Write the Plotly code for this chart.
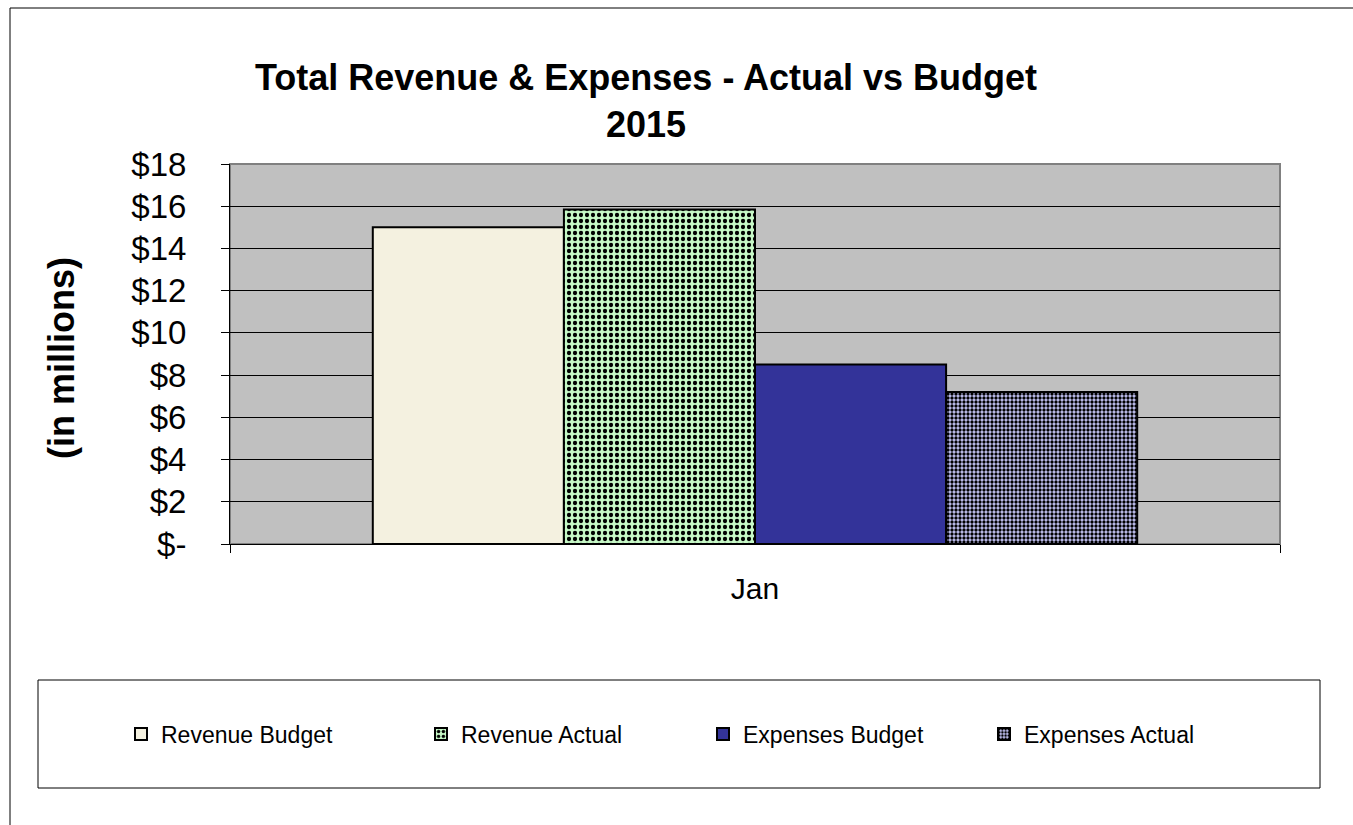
import plotly.graph_objects as go

# Chart data (values in $ millions)
categories = ["Jan"]
series_names = ["Revenue Budget", "Revenue Actual", "Expenses Budget", "Expenses Actual"]
revenue_budget = [15.0]
revenue_actual = [15.85]
expenses_budget = [8.5]
expenses_actual = [7.2]

tick_values = [0, 2, 4, 6, 8, 10, 12, 14, 16, 18]
tick_labels = ["$-", "$2", "$4", "$6", "$8", "$10", "$12", "$14", "$16", "$18"]

FONT = "Arial, Liberation Sans, sans-serif"

# Canvas geometry (pixels)
W, H = 1353, 825
PL, PR, PT, PB = 230, 1280, 164, 544  # plot area left/right/top/bottom


def px_x(x):
    return (x - PL) / (PR - PL)


def px_y(y):
    return (PB - y) / (PB - PT)


styles = [
    dict(color="#F4F1E0", pattern=None),
    dict(color="#C6F8C6", pattern=dict(shape=".", size=6, solidity=0.4,
                                       fgcolor="#000000", bgcolor="#C6F8C6",
                                       fillmode="replace")),
    dict(color="#333399", pattern=None),
    dict(color="#C8C8FA", pattern=dict(shape=".", size=4, solidity=0.55,
                                       fgcolor="#000000", bgcolor="#C8C8FA",
                                       fillmode="replace")),
]
values = [revenue_budget, revenue_actual, expenses_budget, expenses_actual]

# one legend box per series so the entries sit in a single wide row
legend_ids = ["legend", "legend2", "legend3", "legend4"]
legend_left_px = [121, 421, 703, 984]

fig = go.Figure()
for name, vals, st, lg in zip(series_names, values, styles, legend_ids):
    marker = dict(color=st["color"], line=dict(color="#000000", width=2))
    if st["pattern"] is not None:
        marker["pattern"] = st["pattern"]
    fig.add_trace(go.Bar(x=categories, y=vals, name=name, marker=marker, legend=lg))

shapes = [
    # outer chart frame
    dict(type="rect", xref="paper", yref="paper",
         x0=px_x(10), x1=px_x(1400), y0=px_y(880), y1=px_y(8),
         line=dict(color="#000000", width=1), fillcolor="rgba(0,0,0,0)", layer="below"),
    # legend frame
    dict(type="rect", xref="paper", yref="paper",
         x0=px_x(38), x1=px_x(1320), y0=px_y(788), y1=px_y(680),
         line=dict(color="#000000", width=1), fillcolor="rgba(0,0,0,0)"),
    # plot area border
    dict(type="rect", xref="paper", yref="paper", x0=0, x1=1, y0=0, y1=1,
         line=dict(color="#808080", width=2), fillcolor="rgba(0,0,0,0)", layer="below"),
]

legend_layouts = {}
for lg, left in zip(legend_ids, legend_left_px):
    legend_layouts[lg] = dict(
        orientation="h",
        xref="container", yref="container",
        x=left / W, xanchor="left",
        y=1 - 734 / H, yanchor="middle",
        font=dict(family=FONT, size=23),
        bgcolor="rgba(0,0,0,0)",
        itemclick=False,
    )

fig.update_layout(
    width=W, height=H,
    margin=dict(l=PL, r=W - PR, t=PT, b=H - PB, pad=0),
    paper_bgcolor="#FFFFFF",
    plot_bgcolor="#C0C0C0",
    barmode="group",
    bargap=0.272,
    bargroupgap=0,
    font=dict(family=FONT, color="#000000"),
    title=dict(
        text="<b>Total Revenue & Expenses - Actual vs Budget<br>2015</b>",
        x=646 / W, xanchor="center",
        y=1 - 90 / H, yanchor="middle",
        xref="container", yref="container",
        font=dict(family=FONT, size=36, color="#000000"),
    ),
    xaxis=dict(
        type="category",
        tickson="boundaries",
        ticks="outside", ticklen=8, tickcolor="#000000", tickwidth=1,
        showline=True, linecolor="#000000", linewidth=1,
        showgrid=False,
        tickfont=dict(family=FONT, size=30),
        ticklabelstandoff=18,
    ),
    yaxis=dict(
        range=[0, 18],
        tickvals=tick_values, ticktext=tick_labels,
        ticks="outside", ticklen=8, tickcolor="#000000", tickwidth=1,
        showline=True, linecolor="#000000", linewidth=1,
        showgrid=True, gridcolor="#000000", gridwidth=1,
        zeroline=False,
        tickfont=dict(family=FONT, size=33),
        ticklabelstandoff=28,
    ),
    annotations=[
        dict(text="<b>(in millions)</b>", xref="paper", yref="paper",
             x=px_x(61), y=px_y(358), textangle=-90, showarrow=False,
             xanchor="center", yanchor="middle",
             font=dict(family=FONT, size=36, color="#000000")),
    ],
    shapes=shapes,
    showlegend=True,
    **legend_layouts,
)

fig.write_html("out.html")
